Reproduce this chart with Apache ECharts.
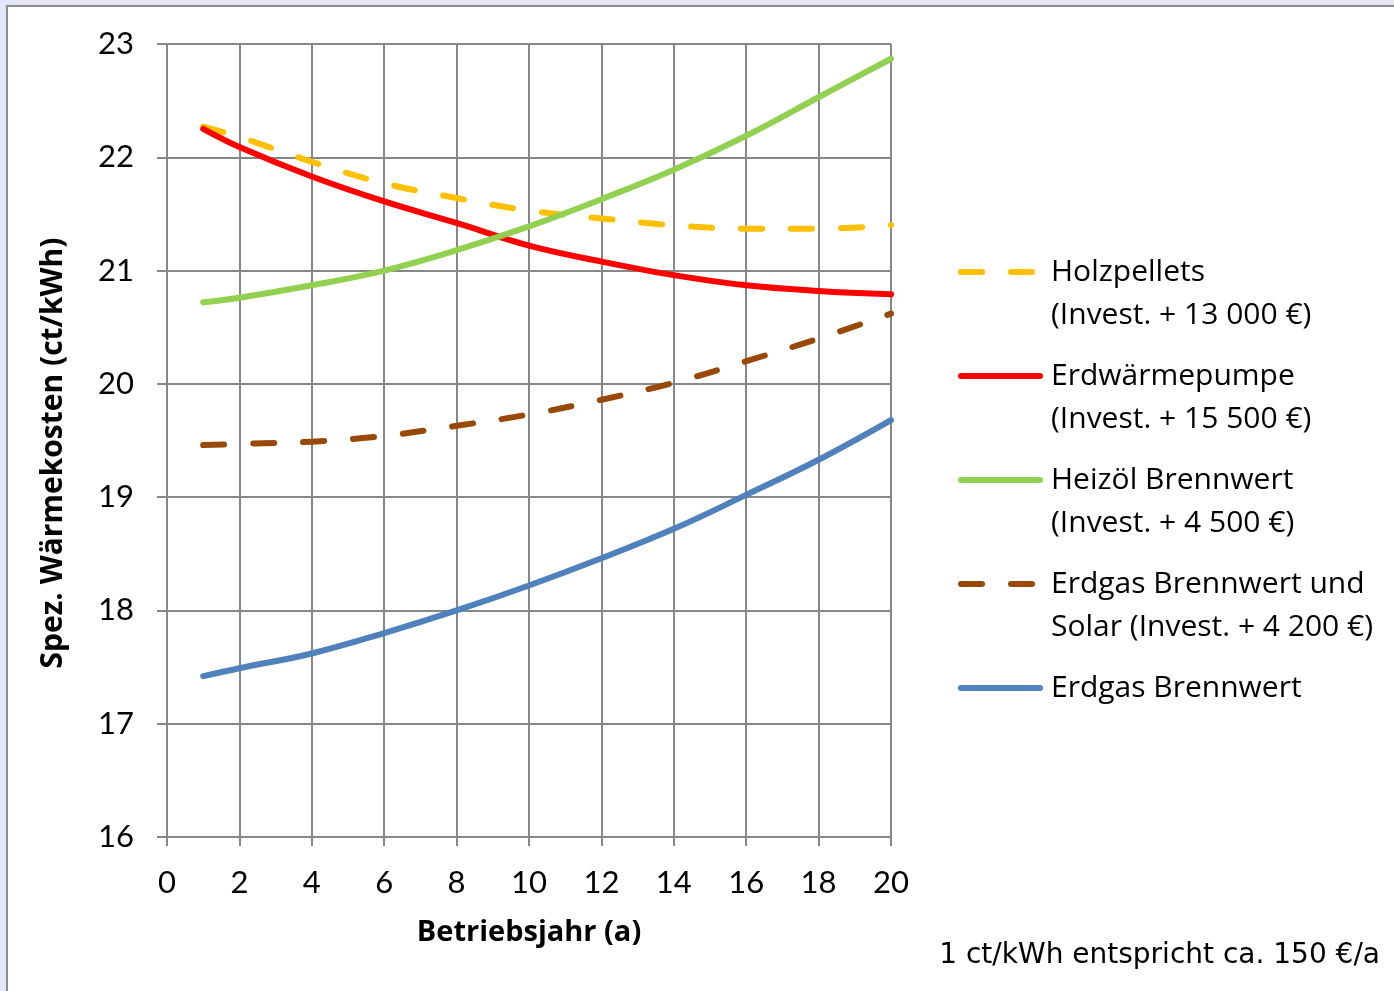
<!DOCTYPE html>
<html>
<head>
<meta charset="utf-8">
<script src="https://cdn.jsdelivr.net/npm/echarts@6/dist/echarts.min.js"></script>
<style>
html,body{margin:0;padding:0;background:#e6e6fa;width:1394px;height:991px;overflow:hidden;}
#frame{position:absolute;left:6px;top:5px;width:1400px;height:1000px;border:2px solid #8c8c8c;background:#fff;}
#chart{position:absolute;left:0;top:0;width:1394px;height:991px;}
</style>
</head>
<body>
<div id="frame"></div>
<div id="chart"></div>
<script>
// ---- data ----
const years = [1, 2, 4, 6, 8, 10, 12, 14, 16, 18, 20];
const holzpellets   = [22.27, 22.18, 21.96, 21.77, 21.64, 21.53, 21.46, 21.40, 21.37, 21.37, 21.40];
const erdwaerme     = [22.25, 22.09, 21.83, 21.61, 21.42, 21.22, 21.08, 20.96, 20.87, 20.82, 20.79];
const heizoel       = [20.72, 20.76, 20.87, 21.00, 21.18, 21.39, 21.63, 21.89, 22.19, 22.53, 22.87];
const erdgasSolar   = [19.46, 19.47, 19.49, 19.54, 19.63, 19.73, 19.86, 20.01, 20.20, 20.40, 20.62];
const erdgas        = [17.42, 17.49, 17.62, 17.80, 18.00, 18.22, 18.46, 18.72, 19.02, 19.33, 19.68];
const seriesNames = ['Holzpellets', 'Erdwärmepumpe', 'Heizöl Brennwert', 'Erdgas Brennwert und', 'Erdgas Brennwert'];
const legendLabels = [
  ' \nHolzpellets\n(Invest. + 13 000 €)',
  ' \nErdwärmepumpe\n(Invest. + 15 500 €)',
  ' \nHeizöl Brennwert\n(Invest. + 4 500 €)',
  ' \nErdgas Brennwert und\nSolar (Invest. + 4 200 €)',
  'Erdgas Brennwert'
];
const xTitle = 'Betriebsjahr (a)';
const yTitle = 'Spez. Wärmekosten (ct/kWh)';
const note = '1 ct/kWh entspricht ca. 150 €/a';

const values = [holzpellets, erdwaerme, heizoel, erdgasSolar, erdgas];
const colors = ['#FFC000', '#FF0000', '#92D050', '#984807', '#4F81BD'];
const dashed = [true, false, false, true, false];

const chart = echarts.init(document.getElementById('chart'), null, {renderer: 'canvas'});
const FONT = 'Lato';
const TFONT = 'Open Sans';
const gridColor = '#878787';

const series = values.map((v, i) => ({
  name: seriesNames[i],
  type: 'line',
  data: years.map((y, j) => [y, v[j]]),
  smooth: 0.4,
  symbol: 'none',
  lineStyle: {
    color: colors[i], width: 6, cap: 'round', join: 'round',
    type: dashed[i] ? [21, 29] : 'solid'
  },
  itemStyle: {color: colors[i]},
  emphasis: {disabled: true},
  animation: false
}));

const legendCenters = [271, 375, 479, 583, 687];
const legends = seriesNames.map((n, i) => {
  const lines = legendLabels[i].split('\n').length;
  return {
    data: [n],
    left: 953,
    top: legendCenters[i] - lines * 43 / 2 - 4,
    orient: 'vertical',
    itemWidth: 79,
    itemHeight: 10,
    selectedMode: false,
    formatter: () => legendLabels[i],
    itemStyle: {opacity: 0},
    lineStyle: {width: 6, cap: 'round', color: colors[i], type: dashed[i] ? [21, 29] : 'solid'},
    textStyle: {fontFamily: TFONT, fontSize: 30, color: '#000', lineHeight: 43, padding: [0, 0, 0, 6]}
  };
});

chart.setOption({
  animation: false,
  backgroundColor: 'transparent',
  grid: {left: 167, right: 503, top: 44, bottom: 154, containLabel: false},
  xAxis: {
    type: 'value', min: 0, max: 20, interval: 2,
    name: xTitle, nameLocation: 'middle', nameGap: 81,
    nameTextStyle: {fontFamily: TFONT, fontWeight: 'bold', fontSize: 29, color: '#000'},
    axisLine: {show: true, lineStyle: {color: gridColor, width: 2}},
    axisTick: {show: true, length: 9, lineStyle: {color: gridColor, width: 2}},
    axisLabel: {fontFamily: FONT, fontSize: 31, color: '#000', margin: 30},
    splitLine: {show: true, lineStyle: {color: gridColor, width: 2}}
  },
  yAxis: {
    type: 'value', min: 16, max: 23, interval: 1,
    axisLine: {show: true, lineStyle: {color: gridColor, width: 2}},
    axisTick: {show: true, length: 10, lineStyle: {color: gridColor, width: 2}},
    axisLabel: {fontFamily: FONT, fontSize: 31, color: '#000', margin: 33},
    splitLine: {show: true, lineStyle: {color: gridColor, width: 2}}
  },
  legend: legends,
  graphic: [
    {type: 'text', x: 53, y: 453, rotation: Math.PI / 2,
     style: {text: yTitle, fontFamily: TFONT, fontWeight: 'bold', fontSize: 30, fill: '#000', align: 'center', verticalAlign: 'middle'}},
    {type: 'text', x: 1380, y: 956,
     style: {text: note, fontFamily: 'DejaVu Sans', fontSize: 28, fill: '#000', align: 'right', verticalAlign: 'middle'}}
  ],
  series: series
});
</script>
</body>
</html>
